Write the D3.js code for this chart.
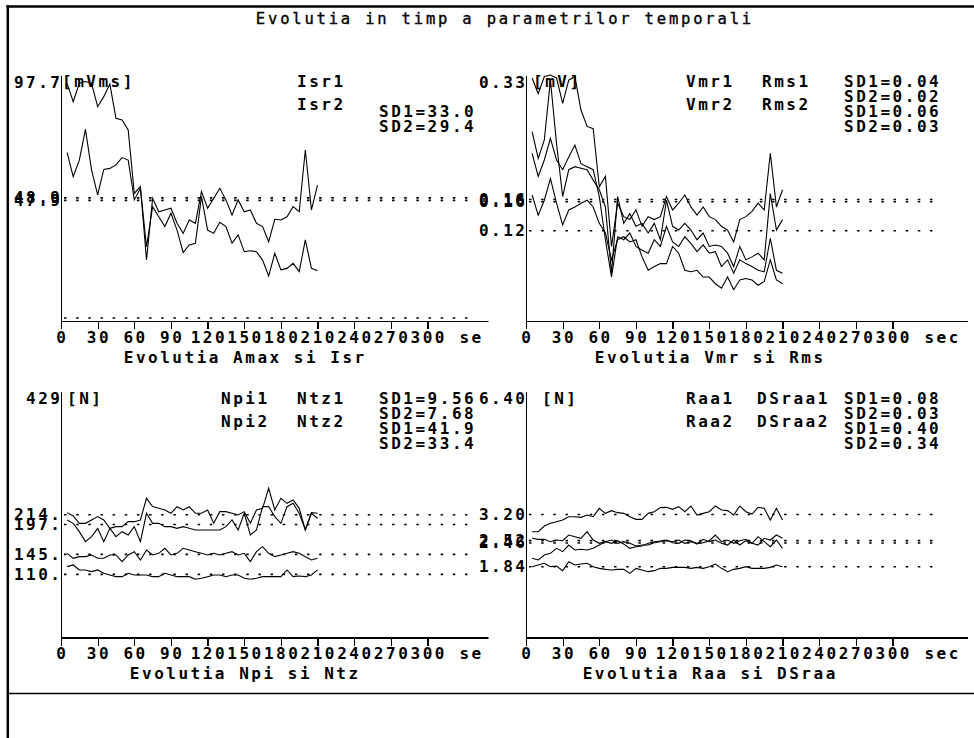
<!DOCTYPE html>
<html>
<head>
<meta charset="utf-8">
<script src="https://cdn.jsdelivr.net/npm/d3@7"></script>
<style>
  html, body { margin: 0; padding: 0; background: #fff; }
  svg { display: block; }
</style>
</head>
<body>
<svg id="chart" width="974" height="738"></svg>
<script>
// ---- data ---------------------------------------------------------------
const chartTitle = "Evolutia in timp a parametrilor temporali";
const times = [5,10,15,20,25,30,35,40,45,50,55,60,65,70,75,80,85,90,95,100,105,110,115,120,125,130,135,140,145,150,155,160,165,170,175,180,185,190,195,200,205,210];
const xTicks = [0,30,60,90,120,150,180,210,240,270,300];
const xUnit = "sec";

// Amax / Isr
const isr1 = [94.4,87.1,94.4,95.1,94.4,85.1,89.1,94.1,80.5,79.8,75.9,50.7,53.4,24.2,48.7,43.4,44.1,44.8,38.8,34.8,40.1,38.8,51.4,44.8,48.7,52.7,48.1,42.1,48.1,43.4,44.1,38.8,37.5,31.5,40.4,40.1,41.4,45.4,43.4,67.9,44.1,54.0];
const isr2 = [66.9,57.3,63.9,76.1,60.0,50.1,60.2,60.6,62.0,64.9,63.9,48.1,52.7,29.5,45.4,41.4,37.5,42.8,36.1,27.2,30.2,30.9,49.4,36.1,34.8,39.2,37.5,30.9,34.2,27.5,27.9,27.5,24.2,17.9,26.9,20.3,20.9,22.9,19.6,32.2,20.9,20.0];
const isrMax = 97.7, isrMaxLabel = "97.7";
const isrMeans = [48.9, 47.9, 1.2];
const isrMeanLabels = ["48.9", "47.9", ""];

// Vmr / Rms
const vmr1 = [0.326,0.305,0.328,0.330,0.326,0.292,0.323,0.328,0.283,0.261,0.258,0.180,0.194,0.100,0.158,0.140,0.136,0.149,0.127,0.140,0.136,0.140,0.167,0.149,0.158,0.169,0.153,0.142,0.153,0.140,0.136,0.127,0.122,0.106,0.136,0.140,0.147,0.158,0.149,0.225,0.153,0.176];
const vmr2 = [0.254,0.218,0.243,0.323,0.238,0.167,0.203,0.207,0.205,0.203,0.189,0.176,0.153,0.064,0.167,0.131,0.144,0.127,0.131,0.118,0.131,0.109,0.162,0.127,0.122,0.131,0.122,0.109,0.118,0.100,0.102,0.100,0.091,0.073,0.100,0.082,0.086,0.091,0.082,0.171,0.122,0.136];
const rms1 = [0.225,0.194,0.216,0.245,0.216,0.203,0.220,0.236,0.211,0.207,0.203,0.167,0.109,0.059,0.113,0.109,0.118,0.100,0.095,0.091,0.109,0.100,0.127,0.106,0.100,0.113,0.104,0.093,0.102,0.091,0.093,0.073,0.082,0.064,0.082,0.077,0.073,0.068,0.066,0.111,0.068,0.064];
const rms2 = [0.169,0.142,0.162,0.191,0.158,0.129,0.149,0.153,0.158,0.162,0.153,0.131,0.118,0.082,0.109,0.113,0.106,0.109,0.086,0.068,0.073,0.077,0.077,0.100,0.091,0.068,0.066,0.068,0.059,0.059,0.050,0.044,0.059,0.042,0.055,0.057,0.055,0.048,0.053,0.082,0.055,0.050];
const vmrMax = 0.33, vmrMaxLabel = "0.33";
const vmrMeans = [0.163, 0.160, 0.121];
const vmrMeanLabels = ["0.16", "0.16", "0.12"];

// Npi / Ntz
const ntz1 = [217.8,211.9,199.1,199.1,205.0,210.8,205.0,190.4,193.3,193.3,202.0,202.0,205.0,242.7,228.2,225.3,222.4,216.6,228.2,222.4,228.2,216.6,216.6,222.4,199.1,219.5,219.5,216.6,213.7,219.5,199.1,222.4,225.3,260.2,222.4,242.7,234.0,239.8,225.3,187.5,217.8,216.6];
const ntz2 = [205.0,199.1,184.6,167.2,175.9,190.4,167.2,190.4,175.9,184.6,178.8,193.3,167.2,216.6,199.1,199.1,193.3,193.3,190.4,193.3,190.4,187.5,187.5,187.5,187.5,187.5,193.3,205.0,187.5,216.6,178.8,187.5,228.2,228.2,210.8,199.1,228.2,234.0,216.6,187.5,216.6,207.9];
const npi1 = [146.8,138.1,141.0,141.0,143.9,138.1,138.1,143.9,143.9,132.3,143.9,149.7,135.2,152.6,143.9,146.8,155.5,143.9,146.8,155.5,152.6,149.7,146.8,143.9,146.8,143.9,146.8,149.7,143.9,146.8,132.3,149.7,158.4,146.8,141.0,143.9,146.8,149.7,146.8,141.0,135.2,138.1];
const npi2 = [123.6,126.5,117.8,117.8,114.9,117.8,112.0,109.0,106.1,106.1,112.0,109.0,109.0,109.0,106.1,106.1,112.0,109.0,106.1,106.1,106.1,101.5,103.2,106.1,109.0,109.0,106.1,109.0,109.0,103.2,101.5,103.2,106.1,106.1,106.1,106.1,117.8,106.1,107.3,106.1,109.0,117.8];
const npiMax = 429, npiMaxLabel = "429";
const npiMeans = [214, 197, 145, 110];
const npiMeanLabels = ["214.", "197.", "145.", "110."];

// Raa / DSraa
const raa1 = [2.753,2.753,2.901,2.970,3.013,3.057,3.143,3.143,3.126,3.187,3.143,3.360,3.230,3.300,3.248,3.230,3.143,3.074,3.074,3.230,3.274,3.378,3.386,3.334,3.404,3.274,3.421,3.187,3.230,3.274,3.421,3.317,3.300,3.187,3.421,3.274,3.213,3.386,3.360,3.057,3.360,3.057];
const raa2 = [2.580,2.554,2.554,2.493,2.536,2.519,2.666,2.623,2.580,2.753,2.536,2.450,2.493,2.450,2.519,2.432,2.320,2.363,2.380,2.450,2.493,2.510,2.519,2.493,2.536,2.450,2.493,2.450,2.467,2.519,2.666,2.493,2.536,2.450,2.519,2.554,2.450,2.406,2.580,2.536,2.666,2.580];
const dsraa1 = [2.060,2.016,2.146,2.190,2.320,2.233,2.406,2.276,2.294,2.276,2.320,2.406,2.493,2.536,2.450,2.493,2.450,2.380,2.406,2.406,2.467,2.493,2.536,2.467,2.450,2.536,2.519,2.432,2.554,2.493,2.536,2.450,2.406,2.536,2.406,2.519,2.450,2.623,2.493,2.363,2.536,2.320];
const dsraa2 = [1.843,1.886,1.930,1.843,1.860,1.739,1.973,1.886,1.912,1.930,1.843,1.799,1.773,1.756,1.773,1.773,1.669,1.799,1.756,1.713,1.739,1.799,1.799,1.825,1.825,1.825,1.799,1.825,1.799,1.843,1.912,1.799,1.713,1.773,1.799,1.843,1.799,1.799,1.799,1.825,1.886,1.843];
const raaMax = 6.40, raaMaxLabel = "6.40";
const raaMeans = [3.20, 2.52, 2.46, 1.84];
const raaMeanLabels = ["3.20", "2.52", "2.46", "1.84"];

// ---- drawing -------------------------------------------------------------
const svg = d3.select("#chart");
const FONT = '"DejaVu Sans Mono", "Liberation Mono", monospace';
const ADV = 12.15;            // character cell width of the fixed font
const MONO_RATIO = 0.6021;    // DejaVu Sans Mono advance per em
const LABEL_SIZE = 16;

// fixed-pitch text: every character occupies one ADV wide cell
function label(g, str, x, y, anchor = "start", weight = "bold", size = LABEL_SIZE) {
  const ls = ADV - MONO_RATIO * size;
  const span = str.length * ADV - ls;
  const left = anchor === "middle" ? x - span / 2 : anchor === "end" ? x - span : x;
  return g.append("text")
    .attr("x", left).attr("y", y)
    .attr("dominant-baseline", "central")
    .attr("fill", "#000")
    .style("font-family", FONT)
    .style("font-weight", weight)
    .style("font-size", size + "px")
    .style("letter-spacing", ls + "px")
    .text(str);
}

const defs = svg.append("defs");
defs.append("clipPath").attr("id", "leftClip")
  .append("rect").attr("x", 0).attr("y", 0).attr("width", 488.5).attr("height", 738);
defs.append("clipPath").attr("id", "leftTextClip")
  .append("rect").attr("x", 0).attr("y", 0).attr("width", 484).attr("height", 738);

// window frame
svg.append("line").attr("x1", 6.5).attr("x2", 974).attr("y1", 6.5).attr("y2", 6.5)
  .attr("stroke", "#000").attr("stroke-width", 2.5);
svg.append("line").attr("x1", 7.8).attr("x2", 7.8).attr("y1", 5).attr("y2", 738)
  .attr("stroke", "#000").attr("stroke-width", 2.5);
svg.append("line").attr("x1", 7).attr("x2", 974).attr("y1", 693.5).attr("y2", 693.5)
  .attr("stroke", "#000").attr("stroke-width", 1.6);

label(svg, chartTitle, 503.5, 19, "middle", "normal", 15.5)
  .attr("stroke", "#000").attr("stroke-width", 0.35);

const panels = [
  { axisX: 61, top: 75, bottom: 321, ymax: isrMax, ymaxLabel: isrMaxLabel,
    unit: "[mVms]", unitX: 62, clip: true,
    series: [isr1, isr2], means: isrMeans, meanLabels: isrMeanLabels,
    col1: ["", ""], col2: ["Isr1", "Isr2"], col2X: 236,
    sd: ["", "", "SD1=33.0", "SD2=29.4"], subtitle: "Evolutia Amax si Isr" },
  { axisX: 61, top: 391.5, bottom: 637.5, ymax: npiMax, ymaxLabel: npiMaxLabel,
    unit: "[N]", unitX: 67, clip: true,
    series: [ntz1, ntz2, npi1, npi2], means: npiMeans, meanLabels: npiMeanLabels,
    col1: ["Npi1", "Npi2"], col2: ["Ntz1", "Ntz2"], col2X: 236,
    sd: ["SD1=9.56", "SD2=7.68", "SD1=41.9", "SD2=33.4"], subtitle: "Evolutia Npi si Ntz" },
  { axisX: 526, top: 75, bottom: 321, ymax: vmrMax, ymaxLabel: vmrMaxLabel,
    unit: "[mV]", unitX: 533, clip: false,
    series: [vmr1, vmr2, rms1, rms2], means: vmrMeans, meanLabels: vmrMeanLabels,
    col1: ["Vmr1", "Vmr2"], col2: ["Rms1", "Rms2"], col2X: 236,
    sd: ["SD1=0.04", "SD2=0.02", "SD1=0.06", "SD2=0.03"], subtitle: "Evolutia Vmr si Rms" },
  { axisX: 526, top: 391.5, bottom: 637.5, ymax: raaMax, ymaxLabel: raaMaxLabel,
    unit: "[N]", unitX: 542, clip: false,
    series: [raa1, raa2, dsraa1, dsraa2], means: raaMeans, meanLabels: raaMeanLabels,
    col1: ["Raa1", "Raa2"], col2: ["DSraa1", "DSraa2"], col2X: 231,
    sd: ["SD1=0.08", "SD2=0.03", "SD1=0.40", "SD2=0.34"], subtitle: "Evolutia Raa si DSraa" }
];

panels.forEach(p => {
  const g = svg.append("g");
  const plot = p.clip ? g.append("g").attr("clip-path", "url(#leftClip)") : g.append("g");
  const textLayer = p.clip ? g.append("g").attr("clip-path", "url(#leftTextClip)") : g.append("g");

  const x = d3.scaleLinear().domain([0, 361]).range([p.axisX, p.axisX + 441]);
  const y = d3.scaleLinear().domain([0, p.ymax]).range([p.bottom, p.top]);
  p.y = y;

  // axes
  const xAxis = plot.append("g")
    .attr("transform", `translate(0,${p.bottom})`)
    .call(d3.axisBottom(x).tickValues(xTicks).tickSize(8).tickSizeOuter(0).tickFormat(""));
  xAxis.selectAll("text").remove();
  const yAxis = plot.append("g")
    .attr("transform", `translate(${p.axisX},0)`)
    .call(d3.axisLeft(y).tickValues([]).tickSizeOuter(0));
  [xAxis, yAxis].forEach(a => a.selectAll("path, line")
    .attr("stroke", "#000").attr("stroke-width", 1.2).attr("shape-rendering", "crispEdges"));

  xTicks.forEach(t => label(textLayer, String(t), x(t), p.bottom + 16, "middle"));
  label(textLayer, xUnit, x(340), p.bottom + 16, "middle");
  label(textLayer, p.subtitle, p.axisX + 183, p.bottom + 36, "middle");

  // mean reference lines
  p.means.forEach(m => {
    plot.append("line")
      .attr("x1", p.axisX + 3).attr("x2", p.axisX + 414)
      .attr("y1", y(m)).attr("y2", y(m))
      .attr("stroke", "#000").attr("stroke-width", 1.6)
      .attr("stroke-dasharray", "2.5 9.65");
  });

  // legend block
  label(g, p.unit, p.unitX, p.top + 6.5);
  p.col1.forEach((s, i) => { if (s) label(g, s, p.axisX + 160, p.top + 6.5 + i * 23); });
  p.col2.forEach((s, i) => { if (s) label(g, s, p.axisX + p.col2X, p.top + 6.5 + i * 23); });
  p.sd.forEach((s, i) => { if (s) label(g, s, p.axisX + 318, p.top + 6.5 + i * 15); });

  // series
  const line = d3.line().x((d, i) => x(times[i])).y(d => y(d));
  p.series.forEach(s => {
    plot.append("path").datum(s)
      .attr("d", line)
      .attr("fill", "none").attr("stroke", "#000").attr("stroke-width", 1.1)
      .attr("stroke-linejoin", "miter");
  });
});

// value labels left of each axis, drawn last: they may spill into the neighbouring panel
panels.forEach(p => {
  label(svg, p.ymaxLabel, p.axisX - 1, p.top + 7, "end");
  p.means.forEach((m, i) => {
    if (p.meanLabels[i]) label(svg, p.meanLabels[i], p.axisX - 1, p.y(m), "end");
  });
});
</script>
</body>
</html>
